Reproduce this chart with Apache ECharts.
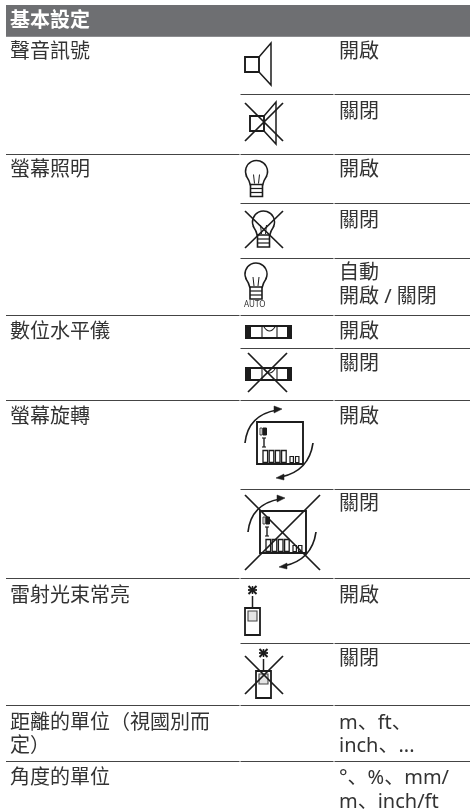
<!DOCTYPE html>
<html>
<head>
<meta charset="utf-8">
<style>
  html, body { margin: 0; padding: 0; background: #fff; }
  #main { width: 470px; height: 809px; }
</style>
<script src="https://cdn.jsdelivr.net/npm/echarts@6/dist/echarts.min.js"></script>
</head>
<body>
<div id="main"></div>
<script>
// 表格文字
var titleText = '基本設定'
var leftLabels = ['聲音訊號', '螢幕照明', '數位水平儀', '螢幕旋轉', '雷射光束常亮', '距離的單位（視國別而', '定）', '角度的單位']
var rightLabels = ['開啟', '關閉', '開啟', '關閉', '自動', '開啟 / 關閉', '開啟', '關閉', '開啟', '關閉', '開啟', '關閉', 'm、ft、', 'inch、...', '°、%、mm/', 'm、inch/ft']

// 每行文字的中线位置
var leftY = [52, 170, 332, 417, 596, 723, 746, 778]
var rightY = [52, 112, 170, 221, 273, 297, 332, 364, 417, 504, 596, 659, 723, 746, 778, 802]
// 分隔线位置
var fullLines = [154.5, 315.5, 400.5, 578.5, 705.5, 761.5]
var subLines = [94.5, 203.5, 258.5, 348.5, 489.5, 643.5]

var ink = '#1c1c1c'
var els = []

function text(x, y, str, size, color, weight, family) {
  els.push({
    type: 'text', x: x, y: y, silent: true,
    style: {
      text: str, fill: color || '#333', fontSize: size || 20, fontWeight: weight || 'normal',
      fontFamily: family || '"Noto Sans", "Noto Sans CJK TC"', textVerticalAlign: 'middle', verticalAlign: 'middle'
    }
  })
}
function seg(x1, y1, x2, y2, w, color) {
  els.push({ type: 'line', silent: true, shape: { x1: x1, y1: y1, x2: x2, y2: y2 }, style: { stroke: color || ink, lineWidth: w || 1.7 } })
}
function box(x, y, w, h, lw, fill, stroke) {
  els.push({ type: 'rect', silent: true, shape: { x: x, y: y, width: w, height: h }, style: { fill: fill || 'none', stroke: stroke || ink, lineWidth: lw === undefined ? 1.8 : lw } })
}
function poly(points, w, fill) {
  els.push({ type: fill ? 'polygon' : 'polyline', silent: true, shape: { points: points }, style: { fill: fill || 'none', stroke: ink, lineWidth: w || 1.5 } })
}
function curve(x1, y1, cx, cy, x2, y2, w) {
  els.push({ type: 'bezierCurve', silent: true, shape: { x1: x1, y1: y1, cpx1: cx, cpy1: cy, x2: x2, y2: y2 }, style: { fill: 'none', stroke: ink, lineWidth: w || 1.5 } })
}
function cross(x1, y1, x2, y2) {
  seg(x1, y1, x2, y2, 1.7)
  seg(x2, y1, x1, y2, 1.7)
}

// 喇叭
function speaker(x, y) {
  box(x, y + 14, 14, 15, 1.9)
  poly([[x + 14, y + 14], [x + 26, y], [x + 26, y + 42], [x + 14, y + 29]], 1.5)
}
// 灯泡，cx 为中心
function bulb(cx, y) {
  els.push({ type: 'arc', silent: true, shape: { cx: cx, cy: y + 11, r: 11, startAngle: Math.PI * 0.85, endAngle: Math.PI * 0.15 }, style: { fill: 'none', stroke: ink, lineWidth: 1.5 } })
  curve(cx - 10.5, y + 15, cx - 7, y + 20, cx - 6, y + 25)
  curve(cx + 10.5, y + 15, cx + 7, y + 20, cx + 6, y + 25)
  seg(cx - 3, y + 14, cx - 2, y + 23, 1)
  seg(cx + 3, y + 14, cx + 2, y + 23, 1)
  box(cx - 6, y + 24, 12, 12, 1.6)
  seg(cx - 6, y + 28, cx + 6, y + 28, 1.2)
  seg(cx - 6, y + 32, cx + 6, y + 32, 1.2)
}
// 水平仪
function level(x, y) {
  box(x, y, 47, 14, 0, ink, 'none')
  box(x + 6, y + 2, 36, 10, 0, '#fff', 'none')
  seg(x + 17, y + 1, x + 17, y + 13, 1.1)
  seg(x + 32, y + 1, x + 32, y + 13, 1.1)
  curve(x + 19, y + 2, x + 24.5, y + 10, x + 30, y + 2, 1.1)
}
// 屏幕与两个旋转箭头
function rotate(x, y) {
  box(x + 12, y + 13, 46, 42, 1.9)
  // 顶部小图标
  box(x + 18, y + 19, 3.5, 7, 1, ink, ink)
  box(x + 15, y + 19, 2.2, 7, 0.8)
  // 工字形
  seg(x + 19, y + 29, x + 19, y + 38, 1.4)
  seg(x + 17, y + 29, x + 21, y + 29, 1.1)
  seg(x + 17, y + 38, x + 21, y + 38, 1.1)
  // 数字格
  for (var i = 0; i < 4; i++) box(x + 18 + i * 6.2, y + 41.5, 4.6, 12, 1.3)
  box(x + 45, y + 47.5, 3.4, 6, 1.2)
  box(x + 50.5, y + 47.5, 3.4, 6, 1.2)
  // 箭头
  curve(x, y + 34, x + 3, y + 6, x + 32, y + 1, 1.7)
  poly([[x + 37, y], [x + 29, y - 3], [x + 29, y + 4]], 0.5, ink)
  curve(x + 68, y + 34, x + 64, y + 62, x + 36, y + 68, 1.7)
  poly([[x + 31, y + 69], [x + 39, y + 65], [x + 39, y + 71]], 0.5, ink)
}
// 米字小星
function star(cx, cy) {
  seg(cx - 4, cy - 4, cx + 4, cy + 4, 1.9)
  seg(cx + 4, cy - 4, cx - 4, cy + 4, 1.9)
  seg(cx - 4.5, cy, cx + 4.5, cy, 1.8)
  seg(cx, cy - 4, cx, cy + 4, 1.5)
}
// 测距仪
function device(x, y) {
  star(x + 7.5, y)
  seg(x + 7.5, y + 6, x + 7.5, y + 18, 1.5)
  box(x, y + 18, 15, 27, 1.8)
  box(x + 3, y + 21, 9, 10, 1.1, '#e4e4e4', '#444')
}

// 标题栏
els.push({ type: 'rect', silent: true, shape: { x: 6, y: 5, width: 464, height: 31 }, style: { fill: '#6e6f72' } })
text(10, 21, titleText, 20, '#fff', 'bold')

// 分隔线，两处竖向小缝
seg(6, 36.5, 470, 36.5, 1, '#8c8d90')
fullLines.forEach(function (y) {
  seg(6, y, 239.5, y, 1.2, '#444')
  seg(240.5, y, 333.5, y, 1.2, '#444')
  seg(334.5, y, 470, y, 1.2, '#444')
})
subLines.forEach(function (y) {
  seg(240.5, y, 333.5, y, 1.2, '#444')
  seg(334.5, y, 470, y, 1.2, '#444')
})

// 左右两列文字，带顿号的行用 SC 字形（顿号靠左下）
leftLabels.forEach(function (s, i) { text(10, leftY[i], s) })
rightLabels.forEach(function (s, i) {
  text(339, rightY[i], s, 20, null, null, s.indexOf('、') >= 0 ? '"Noto Sans", "Noto Sans CJK SC"' : null)
})

// 图标
speaker(245, 43)
speaker(250, 102); cross(245, 103, 283, 141)
bulb(256.5, 160.5)
bulb(263.5, 211); cross(245, 211, 283, 248)
bulb(256, 263)
text(244, 305, 'AUTO', 8, '#333')
level(245, 325)
level(245, 367); cross(248, 353, 287, 392)
rotate(245, 409)
rotate(248, 498); cross(245, 495, 320, 570)
device(245, 590)
device(256, 653); cross(245, 656, 283, 694)

var myChart = echarts.init(document.getElementById('main'), null, { renderer: 'canvas' })
myChart.setOption({
  backgroundColor: '#fff',
  animation: false,
  graphic: { elements: els }
})
</script>
</body>
</html>
